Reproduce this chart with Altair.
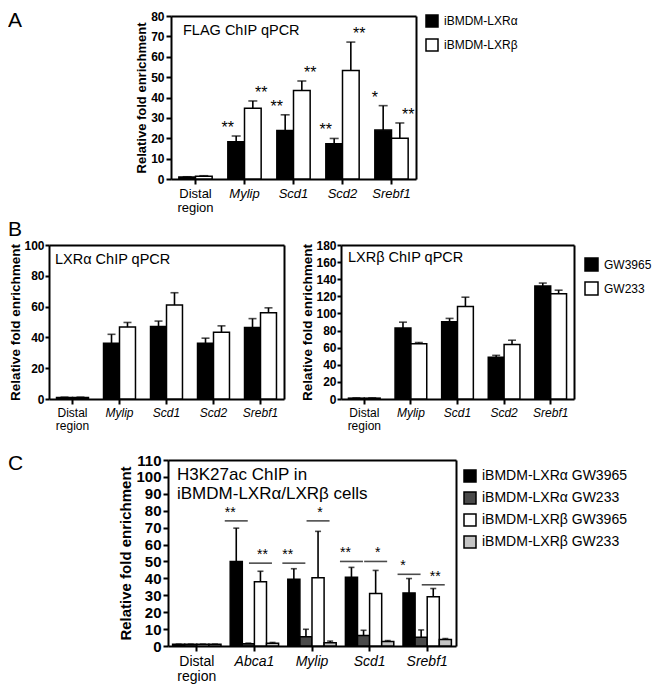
import altair as alt
import pandas as pd

FONT = "Liberation Sans"
W, H = 644, 681

genes_ab = ["Distal region", "Mylip", "Scd1", "Scd2", "Srebf1"]
genes_c = ["Distal region", "Abca1", "Mylip", "Scd1", "Srebf1"]

# Panel A - FLAG ChIP qPCR
a_series = ["iBMDM-LXRα", "iBMDM-LXRβ"]
a_colors = ["#000000", "#ffffff"]
a_lxra = [1.0, 18.3, 23.8, 17.3, 24.0]
a_lxra_err = [0.1, 2.8, 7.7, 2.6, 12.0]
a_lxra_sig = ["", "**", "**", "**", "*"]
a_lxrb = [1.4, 34.7, 43.4, 53.2, 20.0]
a_lxrb_err = [0.2, 3.6, 4.7, 14.0, 7.5]
a_lxrb_sig = ["", "**", "**", "**", "**"]

# Panel B - LXRα / LXRβ ChIP qPCR
b_series = ["GW3965", "GW233"]
b_colors = ["#000000", "#ffffff"]
b1_gw3965 = [1.0, 36.2, 47.0, 36.2, 46.5]
b1_gw3965_err = [0.2, 5.8, 3.6, 3.3, 5.7]
b1_gw233 = [1.0, 46.7, 61.0, 43.3, 56.0]
b1_gw233_err = [0.2, 3.0, 8.0, 4.2, 3.2]
b2_gw3965 = [1.0, 83.0, 90.2, 48.7, 132.0]
b2_gw3965_err = [0.3, 6.8, 4.0, 2.3, 3.5]
b2_gw233 = [1.0, 64.5, 108.0, 63.8, 123.0]
b2_gw233_err = [0.3, 1.5, 11.0, 4.9, 4.2]

# Panel C - H3K27ac ChIP
c_series = ["iBMDM-LXRα GW3965", "iBMDM-LXRα GW233", "iBMDM-LXRβ GW3965", "iBMDM-LXRβ GW233"]
c_colors = ["#000000", "#4a4a4a", "#ffffff", "#c4c4c4"]
c_a3965 = [1.0, 50.0, 39.5, 40.7, 31.4]
c_a3965_err = [0.1, 19.7, 6.2, 5.8, 8.5]
c_a233 = [1.0, 1.4, 5.5, 6.2, 5.2]
c_a233_err = [0.1, 0.3, 4.4, 3.1, 4.3]
c_b3965 = [1.0, 38.0, 40.3, 31.0, 29.2]
c_b3965_err = [0.1, 6.2, 27.5, 13.7, 4.8]
c_b233 = [1.0, 1.6, 1.9, 2.6, 3.9]
c_b233_err = [0.1, 0.5, 1.0, 0.6, 0.5]
# significance bars: anchored on the first bar of each compared pair
c_sig_gene = ["Abca1", "Abca1", "Mylip", "Mylip", "Scd1", "Scd1", "Srebf1", "Srebf1"]
c_sig_series = [c_series[0], c_series[2]] * 4
c_sig_y = [74, 49, 49, 74, 50, 50, 42.4, 36.2]
c_sig_lab = ["**", "**", "**", "*", "**", "*", "*", "**"]

YTITLE = "Relative fold enrichment"


def long_df(genes, series, values, errs, sigs=None):
    rows = []
    if sigs is None:
        sigs = [[""] * len(genes) for _ in series]
    for s, v, e, sg in zip(series, values, errs, sigs):
        for g, vv, ee, ss in zip(genes, v, e, sg):
            rows.append(dict(gene=g, series=s, value=vv, upper=vv + ee, sig=ss))
    return pd.DataFrame(rows)


def panel(df, genes, series, colors, ymax, ystep, box, pad_inner, ytick_fs, xlab_fs,
          ytitle_fs, cap, legend, star_fs=0, sig_df=None, ypads=(5, 2, 2)):
    x0, x1, y0, y1 = box
    tsz, lpad, tpad = ypads

    def xscale():
        return alt.Scale(type="band", domain=genes, range=[x0, x1],
                         paddingInner=pad_inner, paddingOuter=pad_inner / 2)

    def yscale():
        return alt.Scale(domain=[0, ymax], range=[y1, y0], nice=False, zero=True)

    xax = alt.Axis(
        orient="bottom", offset=y1 - H, title=None, labelAngle=0, labelFontSize=xlab_fs,
        labelPadding=3, labelLineHeight=xlab_fs + 1, tickSize=5,
        labelExpr="datum.value === 'Distal region' ? ['Distal', 'region'] : datum.label",
        labelFontStyle={"condition": {"test": "datum.value === 'Distal region'", "value": "normal"},
                        "value": "italic"},
    )
    yax = alt.Axis(orient="left", offset=-x0, values=list(range(0, ymax + 1, ystep)),
                   labelFontSize=ytick_fs, labelFontWeight="bold", titleFontSize=ytitle_fs,
                   titleFontWeight="bold", tickSize=tsz, labelPadding=lpad, titlePadding=tpad,
                   title=YTITLE)
    x = alt.X("gene:N", scale=xscale(), axis=xax, title=None)
    xo = alt.XOffset("series:N", sort=series,
                     scale=alt.Scale(domain=series, paddingInner=0, paddingOuter=0))

    def Y(f):
        return alt.Y(f, type="quantitative", scale=yscale(), axis=yax, title=YTITLE)

    base = alt.Chart(df)
    bars = base.mark_bar(stroke="black", strokeWidth=1.5).encode(
        x=x, xOffset=xo, y=Y("value"),
        fill=alt.Fill("series:N", sort=series, scale=alt.Scale(domain=series, range=colors),
                      legend=legend),
    )
    rule = base.mark_rule(color="black", strokeWidth=1.6).encode(
        x=x, xOffset=xo, y=Y("value"), y2="upper:Q")
    capm = base.mark_tick(orient="horizontal", size=cap, thickness=1.6, color="black").encode(
        x=x, xOffset=xo, y=Y("upper"))
    layers = [bars, rule, capm]
    if star_fs:
        layers.append(base.mark_text(fontSize=star_fs, baseline="alphabetic", dy=-3,
                                     font=FONT).encode(
            x=x, xOffset=xo, y=Y("upper"), text="sig:N"))
    if sig_df is not None:
        half = (x1 - x0) * (1 - pad_inner) / len(genes) / len(series) / 2
        layers.append(alt.Chart(sig_df).mark_tick(orient="horizontal", size=23, thickness=1.6,
                                                  color="black", xOffset=half).encode(
            x=x, xOffset=xo, y=Y("y")))
        layers.append(alt.Chart(sig_df).mark_text(fontSize=14, baseline="alphabetic", dy=-4,
                                                  font=FONT, xOffset=half).encode(
            x=x, xOffset=xo, y=Y("y"), text="lab:N"))
    data_layer = alt.layer(*layers).resolve_scale(xOffset="independent")

    # top and right borders of the panel box, drawn as domain-only axes
    frame = alt.Chart(df).mark_point(opacity=0).encode(
        x=alt.X("gene:N", scale=xscale(),
                axis=alt.Axis(orient="top", offset=-y0, labels=False, ticks=False, title=None)),
        y=alt.Y("value:Q", scale=yscale(),
                axis=alt.Axis(orient="right", offset=x1 - W, labels=False, ticks=False,
                              title=None)),
    )
    return alt.layer(data_layer, frame).resolve_scale(x="independent", y="independent")


def legend(fs, lx, ly, sym, rowpad):
    return alt.Legend(title=None, orient="none", legendX=lx, legendY=ly, symbolType="square",
                      symbolSize=sym, symbolStrokeColor="black", symbolStrokeWidth=1.5,
                      labelFontSize=fs, labelFont=FONT, rowPadding=rowpad, padding=0,
                      labelLimit=300, labelOffset=5)


def text_item(txt, x, y, size, line_h=None):
    kw = {}
    if line_h:
        kw["lineHeight"] = line_h
    return alt.Chart(pd.DataFrame({"k": [0]})).mark_text(
        align="left", baseline="alphabetic", fontSize=size, font=FONT, **kw).encode(
        x=alt.value(x), y=alt.value(y), text=alt.value(txt))


dfA = long_df(genes_ab, a_series, [a_lxra, a_lxrb], [a_lxra_err, a_lxrb_err],
              [a_lxra_sig, a_lxrb_sig])
dfB1 = long_df(genes_ab, b_series, [b1_gw3965, b1_gw233], [b1_gw3965_err, b1_gw233_err])
dfB2 = long_df(genes_ab, b_series, [b2_gw3965, b2_gw233], [b2_gw3965_err, b2_gw233_err])
dfC = long_df(genes_c, c_series, [c_a3965, c_a233, c_b3965, c_b233],
              [c_a3965_err, c_a233_err, c_b3965_err, c_b233_err])
dfSig = pd.DataFrame({"gene": c_sig_gene, "series": c_sig_series, "y": c_sig_y, "lab": c_sig_lab})

pA = panel(dfA, genes_ab, a_series, a_colors, 80, 10, (163, 408, 8, 171), 0.32,
           12, 13, 13, 9, legend(12, 417, 6, 144, 6), star_fs=16)
pB1 = panel(dfB1, genes_ab, b_series, b_colors, 100, 20, (41, 276, 237, 391), 0.32,
            12, 12, 13.5, 8, None, ypads=(4, 1, 1))
pB2 = panel(dfB2, genes_ab, b_series, b_colors, 180, 20, (333, 566, 237, 391), 0.32,
            12, 12, 13.5, 8, legend(12, 576, 249, 169, 5), ypads=(4, 1, 1))
pC = panel(dfC, genes_c, c_series, c_colors, 110, 10, (160, 448, 452, 638), 0.16,
           15, 14, 15, 6, legend(14, 455, 461, 144, 4), sig_df=dfSig)

texts = [
    text_item("A", 0, 19, 21),
    text_item("B", 0, 228, 21),
    text_item("C", 0, 462, 21),
    text_item("FLAG ChIP qPCR", 175, 27, 14.5),
    text_item("LXRα ChIP qPCR", 47, 256, 14.5),
    text_item("LXRβ ChIP qPCR", 340, 254, 14.5),
    text_item(["H3K27ac ChIP in", "iBMDM-LXRα/LXRβ cells"], 169, 472, 17, 19),
]

chart = (
    alt.layer(pA, pB1, pB2, pC, *texts)
    .resolve_scale(x="independent", y="independent", xOffset="independent", fill="independent")
    .properties(width=W, height=H, padding=0, autosize=alt.AutoSizeParams(type="none"))
    .configure_view(stroke="transparent")
    .configure_axis(labelFont=FONT, titleFont=FONT, domainWidth=2, domainColor="black",
                    tickWidth=2, tickColor="black", labelColor="black",
                    titleColor="black", grid=False)
    .configure_text(font=FONT, color="black")
)

chart.save("out.html", embed_options={"renderer": "svg", "actions": False})
